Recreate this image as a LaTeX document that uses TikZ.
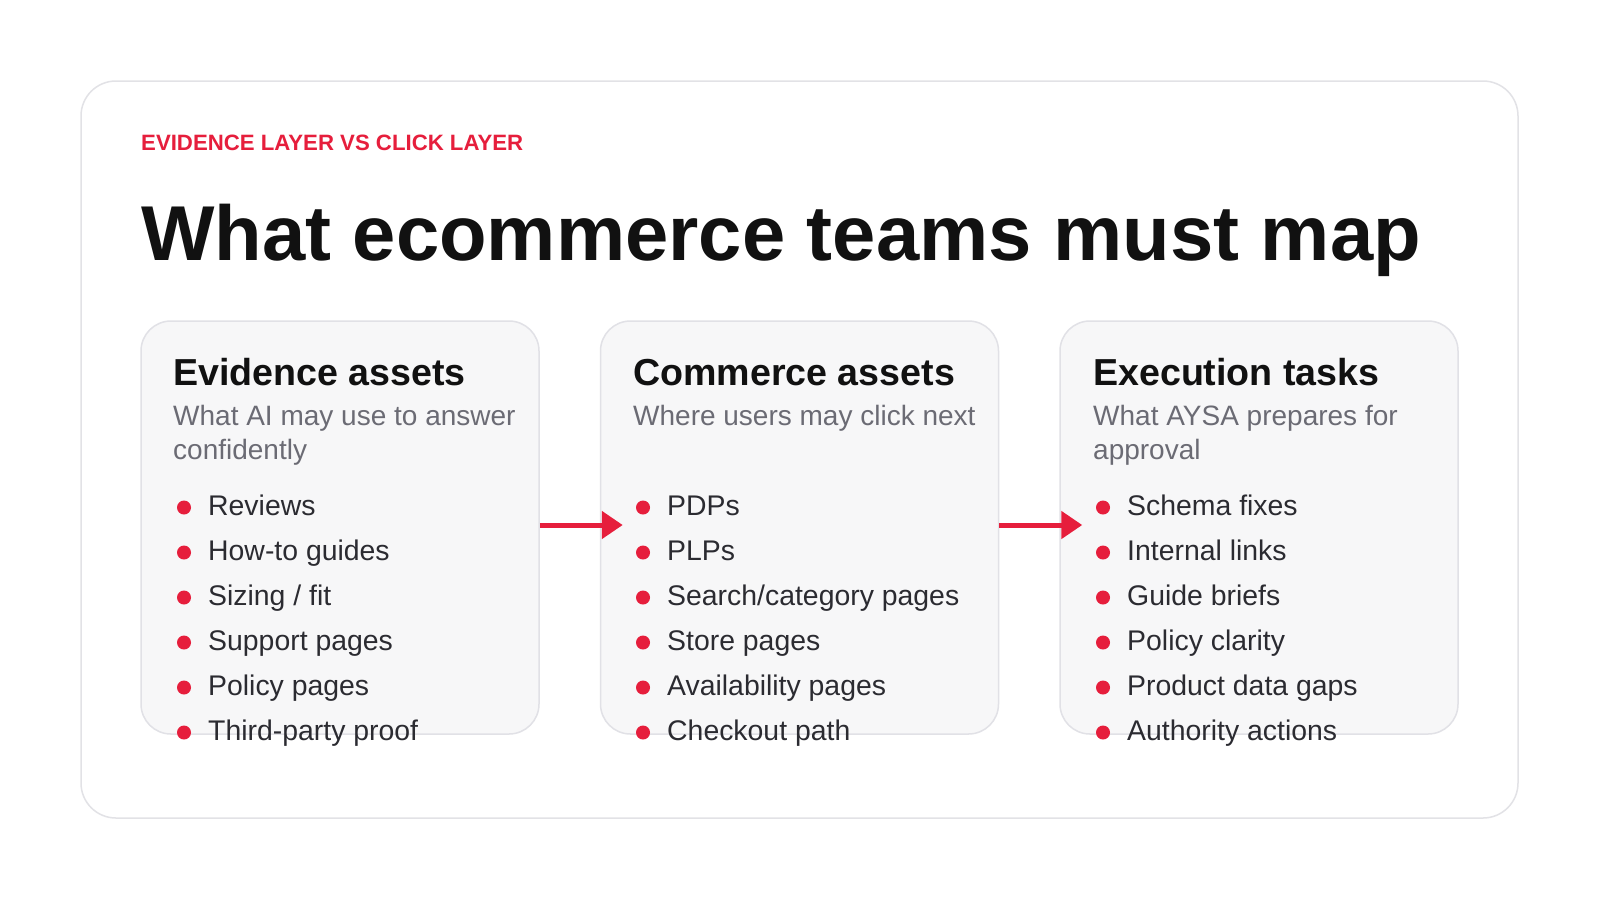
\documentclass[tikz,border=0pt]{standalone}
\usepackage{fontspec}
\setmainfont{Liberation Sans}
\usepackage{tikz}
\usetikzlibrary{arrows.meta,positioning}

\definecolor{brandred}{HTML}{E61E3C}
\definecolor{cardline}{HTML}{E2E2E6}
\definecolor{panelfill}{HTML}{F7F7F8}
\definecolor{panelline}{HTML}{E1E1E6}
\definecolor{headink}{HTML}{111111}
\definecolor{subink}{HTML}{6B6B74}
\definecolor{itemink}{HTML}{2B2B31}

\begin{document}
\begin{tikzpicture}[x=1pt,y=-1pt,
    card/.style={draw=cardline,fill=white,line width=1.5pt,rounded corners=35pt,
      minimum width=1437pt,minimum height=737pt,inner sep=0pt},
    panel/.style={draw=panelline,fill=panelfill,line width=1.5pt,rounded corners=30pt,
      minimum width=398pt,minimum height=413pt,inner sep=0pt},
    kicker/.style={anchor=base west,inner sep=0pt,text=brandred,
      font=\fontsize{22.2}{26}\selectfont\bfseries},
    headline/.style={anchor=base west,inner sep=0pt,text=headink,
      font=\fontsize{77.8}{90}\selectfont\bfseries},
    head/.style={anchor=base west,inner sep=0pt,text=headink,
      font=\fontsize{37.6}{45}\selectfont\bfseries},
    sub/.style={anchor=base west,inner sep=0pt,text=subink,align=left,
      font=\fontsize{28}{34}\selectfont},
    item/.style={anchor=base west,inner sep=0pt,text=itemink,
      font=\fontsize{28.4}{33}\selectfont},
    dot/.style={circle,fill=brandred,inner sep=0pt,minimum size=14pt},
    flow/.style={draw=brandred,line width=5pt,-{Triangle[length=21pt,width=27pt]}}]

    \useasboundingbox[fill=white] (0,0) rectangle (1600,900);
    \node[card] (card) at (799.5,449.5) {};

    \node[kicker] (tag) at (141,150) {EVIDENCE LAYER VS CLICK LAYER};
    \node[headline] (title) at (141,260) {What ecommerce teams must map};

    % the three columns
    \node[panel] (ev) at (340,527.5) {};
    \node[panel] (cm) at (799.5,527.5) {};
    \node[panel] (ex) at (1259,527.5) {};

    % two-line subtitles sit on the baseline of their last line
    \node[head] (evh) at (173,385) {Evidence assets};
    \node[sub] (evs) at (173,459) {What AI may use to answer\\confidently};
    \node[head] (cmh) at (633,385) {Commerce assets};
    \node[sub] (cms) at (633,425) {Where users may click next};
    \node[head] (exh) at (1093,385) {Execution tasks};
    \node[sub] (exs) at (1093,459) {What AYSA prepares for\\approval};

    % bullets
    \foreach \txt [count=\i] in {Reviews,How-to guides,Sizing / fit,Support pages,Policy pages,Third-party proof} {
      \node[dot] (evd\i) at (184,{507.5+45*(\i-1)}) {};
      \node[item] (evi\i) at (208,{515+45*(\i-1)}) {\txt};
    }
    \foreach \txt [count=\i] in {PDPs,PLPs,Search/category pages,Store pages,Availability pages,Checkout path} {
      \node[dot] (cmd\i) at (643,{507.5+45*(\i-1)}) {};
      \node[item] (cmi\i) at (667,{515+45*(\i-1)}) {\txt};
    }
    \foreach \txt [count=\i] in {Schema fixes,Internal links,Guide briefs,Policy clarity,Product data gaps,Authority actions} {
      \node[dot] (exd\i) at (1103,{507.5+45*(\i-1)}) {};
      \node[item] (exi\i) at (1127,{515+45*(\i-1)}) {\txt};
    }

    % hand-over arrows
    \draw[flow] ([yshift=2.5pt]ev.east) -- ([xshift=23pt,yshift=2.5pt]cm.west);
    \draw[flow] ([yshift=2.5pt]cm.east) -- ([xshift=23pt,yshift=2.5pt]ex.west);
\end{tikzpicture}
\end{document}
